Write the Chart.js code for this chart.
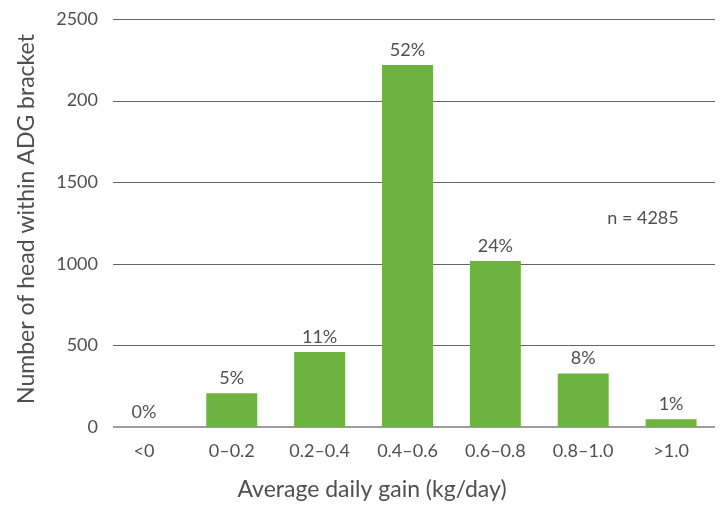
<!DOCTYPE html>
<html>
<head>
<meta charset="utf-8">
<script src="https://cdn.jsdelivr.net/npm/chart.js@4/dist/chart.umd.min.js"></script>
<style>
  html, body { margin: 0; padding: 0; background: #fff; }
  canvas { display: block; }
</style>
</head>
<body>
<canvas id="adg" width="722" height="506"></canvas>
<script>
const categories = ['<0', '0–0.2', '0.2–0.4', '0.4–0.6', '0.6–0.8', '0.8–1.0', '>1.0'];
const headCounts = [0, 207, 459, 2218, 1017, 328, 47];
const shareLabels = ['0%', '5%', '11%', '52%', '24%', '8%', '1%'];
const yTickLabels = ['0', '500', '1000', '1500', '200', '2500'];
const sampleNote = 'n = 4285';
const xTitle = 'Average daily gain (kg/day)';
const yTitle = 'Number of head within ADG bracket';

const fontFamily = 'Lato, "Open Sans", sans-serif';
const textColor = '#505050';
const barColor = '#6cb33f';

// grid lines start a little right of the tick labels, zero line is lighter and heavier
const gridPlugin = {
  id: 'gridLines',
  beforeDatasetsDraw(chart) {
    const { ctx, chartArea, scales } = chart;
    ctx.save();
    scales.y.ticks.forEach((t) => {
      const y = Math.round(scales.y.getPixelForValue(t.value));
      const zero = t.value === 0;
      ctx.strokeStyle = zero ? '#9d9d9d' : '#666';
      ctx.lineWidth = zero ? 2 : 1;
      ctx.beginPath();
      ctx.moveTo(chartArea.left + 13, zero ? y : y + 0.5);
      ctx.lineTo(chartArea.right, zero ? y : y + 0.5);
      ctx.stroke();
    });
    ctx.restore();
  },
};

// percent labels above bars, plus titles and sample size note
const textPlugin = {
  id: 'chartText',
  afterDatasetsDraw(chart) {
    const { ctx, chartArea } = chart;
    const meta = chart.getDatasetMeta(0);
    ctx.save();
    ctx.fillStyle = textColor;
    ctx.textAlign = 'center';
    ctx.textBaseline = 'middle';
    ctx.font = '18px ' + fontFamily;
    meta.data.forEach((bar, i) => {
      ctx.fillText(shareLabels[i], bar.x, bar.y - 15);
    });

    ctx.fillText(sampleNote, chartArea.right - 72, 218);

    ctx.font = '23px ' + fontFamily;
    ctx.fillText(xTitle, 372, 490);

    ctx.translate(27, 219);
    ctx.rotate(-Math.PI / 2);
    ctx.fillText(yTitle, 0, 0);
    ctx.restore();
  },
};

new Chart(document.getElementById('adg'), {
  type: 'bar',
  data: {
    labels: categories,
    datasets: [{
      data: headCounts,
      backgroundColor: barColor,
      borderWidth: 0,
      barPercentage: 0.58,
      categoryPercentage: 1,
    }],
  },
  plugins: [gridPlugin, textPlugin],
  options: {
    responsive: false,
    animation: false,
    layout: { padding: { top: 19, right: 7, left: 0, bottom: 0 } },
    plugins: {
      legend: { display: false },
      tooltip: { enabled: false },
    },
    scales: {
      x: {
        grid: { display: false },
        border: { display: false },
        ticks: {
          color: textColor,
          padding: 5,
          maxRotation: 0,
          font: { size: 18, family: fontFamily },
        },
        afterFit: (scale) => { scale.height = 79; },
      },
      y: {
        min: 0,
        max: 2500,
        grid: { display: false },
        border: { display: false },
        ticks: {
          stepSize: 500,
          color: textColor,
          padding: -6,
          font: { size: 18, family: fontFamily },
          callback: (v, i) => yTickLabels[i],
        },
        afterFit: (scale) => { scale.width = 100; },
      },
    },
  },
});
</script>
</body>
</html>
